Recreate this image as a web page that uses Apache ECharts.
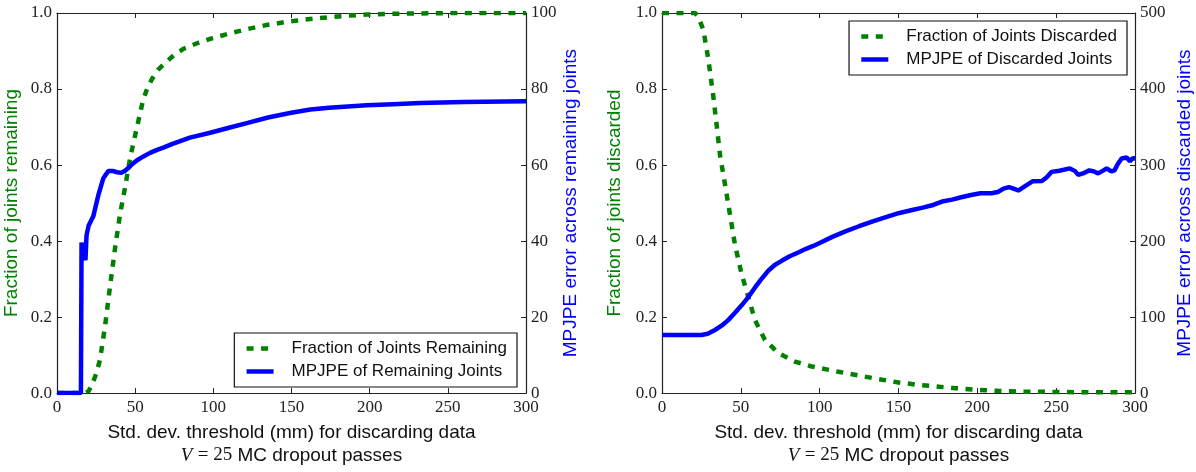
<!DOCTYPE html>
<html>
<head>
<meta charset="utf-8">
<title>MC dropout threshold</title>
<script src="https://cdn.jsdelivr.net/npm/echarts@6/dist/echarts.min.js"></script>
<style>
	html, body { margin: 0; padding: 0; background: #fff; }
	#main { width: 1196px; height: 472px; }
</style>
</head>
<body>
<div id="main"></div>
<script>
// x ticks (std. dev. threshold, mm)
var xTicks = [0, 50, 100, 150, 200, 250, 300];

// 左图: 剩余关节比例
var remFracX = [0, 17, 20, 22, 25, 27.5, 30.7, 33.9, 37.1, 40.3, 43.5, 46.7, 49, 52, 55, 58, 61, 65, 69, 75, 81, 90, 98, 110, 122, 135, 149, 162, 174, 186, 198, 215, 233, 260, 300];
var remFracY = [0, 0, 0.004, 0.018, 0.05, 0.088, 0.175, 0.28, 0.38, 0.47, 0.54, 0.617, 0.66, 0.715, 0.77, 0.805, 0.828, 0.852, 0.868, 0.89, 0.906, 0.921, 0.932, 0.946, 0.958, 0.969, 0.978, 0.984, 0.989, 0.993, 0.996, 0.998, 0.999, 1.0, 1.0];

// 左图: 剩余关节 MPJPE
var remErrX = [0, 15.3, 15.7, 16.6, 17.4, 18.2, 18.9, 20.2, 23.2, 26.4, 29.6, 32.8, 36, 38.5, 41.4, 43.5, 45.6, 48, 51, 55, 59.5, 64, 68, 73.5, 85, 98, 110, 122, 135, 149, 162, 174, 186, 198, 215, 232, 260, 300];
var remErrY = [0, 0, 39.6, 39.4, 36, 35, 41.5, 44, 46.5, 52, 56.5, 58.4, 58.4, 58.1, 58, 58.5, 59.2, 60.2, 61.2, 62.2, 63.2, 64, 64.6, 65.5, 67.2, 68.5, 69.8, 71.1, 72.5, 73.7, 74.6, 75.1, 75.4, 75.7, 76, 76.3, 76.6, 76.8];

// 右图: 丢弃关节比例
var disFracX = [0, 21, 23, 26.2, 29.4, 32.5, 34.7, 36.8, 40, 43.1, 46.3, 50.5, 54.7, 59, 65.3, 73.8, 84.3, 95, 100, 112, 124, 137, 150, 162, 172.5, 186, 199, 213, 226, 250, 274, 300];
var disFracY = [1, 1, 0.99, 0.956, 0.878, 0.782, 0.704, 0.626, 0.548, 0.47, 0.39, 0.313, 0.253, 0.192, 0.14, 0.105, 0.083, 0.07, 0.066, 0.056, 0.047, 0.037, 0.028, 0.022, 0.018, 0.013, 0.009, 0.006, 0.004, 0.003, 0.002, 0.002];

// 右图: 丢弃关节 MPJPE
var disErrX = [0, 25, 29, 33.6, 38, 42, 46, 50.5, 55, 59, 63, 67.4, 71.5, 75.9, 81, 86.4, 91, 95.9, 100, 108, 116.7, 125, 133.7, 142, 150.6, 158, 165.4, 172, 177.6, 184, 189.8, 196, 202, 209, 213, 216.6, 220, 223, 226, 230, 235, 241, 244, 247, 252, 258.7, 262, 264, 267, 271, 274, 276.6, 280, 282, 285, 287, 289, 291.5, 294.7, 296.8, 298.5, 300];
var disErrY = [76.4, 76.4, 78, 83, 89, 96, 105, 115.5, 127, 139, 150, 161, 168.5, 174, 180, 185, 189.5, 193.6, 197.5, 205.5, 213, 219.5, 226, 231.5, 237, 240.5, 244, 247.5, 252, 254.5, 257.6, 260.5, 262.8, 262.8, 264.5, 269, 271, 269, 266.5, 272, 278.6, 279, 284, 291, 292.5, 295.6, 292, 287, 289, 293, 291.5, 289, 293, 295.6, 291.6, 293, 301, 308.6, 310, 305, 309, 308.6];

var GREEN = '#008000';
var BLUE = '#0000ff';
var SANS = 'Liberation Sans';
var SERIF = 'Liberation Serif';

function pairs(xs, ys) {
	var out = [];
	for (var i = 0; i < xs.length; i++) out.push([xs[i], ys[i]]);
	return out;
}

// x轴 (底部带标签, 顶部只有刻度)
function xAxisOf(grid, top) {
	return {
		type: 'value',
		gridIndex: grid,
		position: top ? 'top' : 'bottom',
		min: xTicks[0],
		max: xTicks[xTicks.length - 1],
		interval: xTicks[1] - xTicks[0],
		axisLine: { show: true, onZero: false, lineStyle: { color: '#222', width: 1.2 } },
		axisTick: { show: true, inside: true, length: 5, lineStyle: { color: '#222' } },
		axisLabel: { show: !top, margin: 6, fontFamily: SERIF, fontSize: 17, color: '#222' },
		splitLine: { show: false },
		name: top ? '' : 'Std. dev. threshold (mm) for discarding data\n{v|V} {e|= 25} MC dropout passes',
		nameLocation: 'middle',
		nameGap: 24,
		nameTextStyle: {
			fontFamily: SANS, fontSize: 19, color: '#111', lineHeight: 23,
			rich: {
				v: { fontFamily: SERIF, fontStyle: 'italic', fontSize: 19, color: '#111' },
				e: { fontFamily: SERIF, fontSize: 19, color: '#111' }
			}
		}
	};
}

function yAxisOf(grid, pos, max, step, digits, name, color, gap) {
	return {
		type: 'value',
		gridIndex: grid,
		position: pos,
		min: 0,
		max: max,
		interval: step,
		axisLine: { show: true, onZero: false, lineStyle: { color: '#222', width: 1.2 } },
		axisTick: { show: true, inside: true, length: 5, lineStyle: { color: '#222' } },
		axisLabel: {
			margin: 5, fontFamily: SERIF, fontSize: 17, color: '#222',
			formatter: function(v) { return v.toFixed(digits); }
		},
		splitLine: { show: false },
		name: name,
		nameLocation: 'middle',
		nameRotate: 90,
		nameGap: gap,
		nameTextStyle: { fontFamily: SANS, fontSize: 19, color: color }
	};
}

function legendOf(names, right, top) {
	return {
		data: names,
		orient: 'vertical',
		right: right,
		top: top,
		itemWidth: 27,
		itemHeight: 12,
		itemGap: 6,
		padding: [7, 10, 7, 10],
		borderColor: '#111',
		borderWidth: 1.2,
		borderRadius: 0,
		// 只画线, 不画圆点
		itemStyle: { opacity: 0 },
		lineStyle: { width: 4.5 },
		textStyle: { fontFamily: SANS, fontSize: 17, color: '#111', padding: [0, 0, 0, 13] }
	};
}

var chart = echarts.init(document.getElementById('main'));

var option = {
	animation: false,
	backgroundColor: '#fff',
	textStyle: { fontFamily: SANS },
	grid: [
		{ left: 57, top: 13, width: 469, height: 384 },
		{ left: 662, top: 13, width: 473, height: 384 }
	],
	legend: [
		legendOf(['Fraction of Joints Remaining', 'MPJPE of Remaining Joints'], 1196 - 517, 333),
		legendOf(['Fraction of Joints Discarded', 'MPJPE of Discarded Joints'], 1196 - 1127, 21)
	],
	xAxis: [xAxisOf(0, false), xAxisOf(0, true), xAxisOf(1, false), xAxisOf(1, true)],
	yAxis: [
		yAxisOf(0, 'left', 1, 0.2, 1, 'Fraction of joints remaining', GREEN, 36),
		yAxisOf(0, 'right', 100, 20, 0, 'MPJPE error across remaining joints', BLUE, 35),
		yAxisOf(1, 'left', 1, 0.2, 1, 'Fraction of joints discarded', GREEN, 38),
		yAxisOf(1, 'right', 500, 100, 0, 'MPJPE error across discarded joints', BLUE, 40)
	],
	series: [
		{
			name: 'Fraction of Joints Remaining', type: 'line', xAxisIndex: 0, yAxisIndex: 0,
			data: pairs(remFracX, remFracY), symbol: 'none', z: 2,
			itemStyle: { color: GREEN },
			lineStyle: { color: GREEN, width: 4.5, type: [7, 7.5], cap: 'butt' }
		},
		{
			name: 'MPJPE of Remaining Joints', type: 'line', xAxisIndex: 0, yAxisIndex: 1,
			data: pairs(remErrX, remErrY), symbol: 'none', z: 3,
			itemStyle: { color: BLUE },
			lineStyle: { color: BLUE, width: 4.5 }
		},
		{
			name: 'Fraction of Joints Discarded', type: 'line', xAxisIndex: 2, yAxisIndex: 2,
			data: pairs(disFracX, disFracY), symbol: 'none', z: 2,
			itemStyle: { color: GREEN },
			lineStyle: { color: GREEN, width: 4.5, type: [7, 7.5], cap: 'butt' }
		},
		{
			name: 'MPJPE of Discarded Joints', type: 'line', xAxisIndex: 2, yAxisIndex: 3,
			data: pairs(disErrX, disErrY), symbol: 'none', z: 3,
			itemStyle: { color: BLUE },
			lineStyle: { color: BLUE, width: 4.5 }
		}
	]
};

chart.setOption(option);
</script>
</body>
</html>
